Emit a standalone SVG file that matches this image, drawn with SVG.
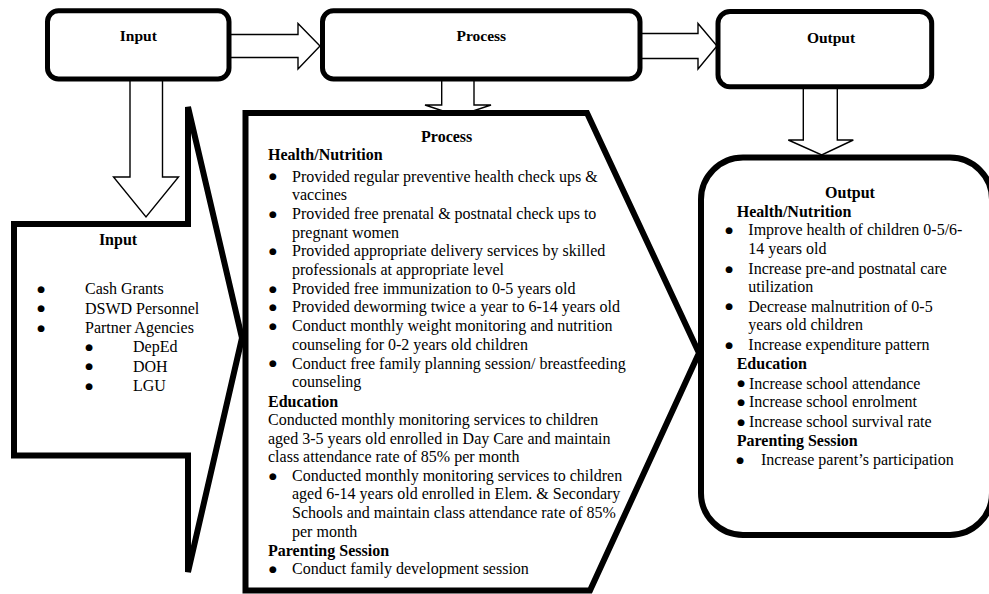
<svg xmlns="http://www.w3.org/2000/svg" width="989" height="594" viewBox="0 0 989 594">
<style>
  text { font-family: "Liberation Serif", "Times New Roman", serif; font-size: 16px; fill: #000; }
  .b { font-weight: bold; }
  .top { font-weight: bold; font-size: 15.5px; text-anchor: middle; }
  .mid { text-anchor: middle; }
  .bl { font-family: "DejaVu Sans", sans-serif; font-size: 9px; }
  .box { fill: #fff; stroke: #000; stroke-width: 5; }
  .callout { fill: #fff; stroke: #000; stroke-width: 6; }
  .blk { fill: #fff; stroke: #000; stroke-width: 1.4; }
</style>
<rect width="989" height="594" fill="#fff"/>

<g id="connectors">
  <polygon class="blk" points="229,34.5 298,34.5 298,23.5 320,46 298,69 298,57.5 229,57.5"/>
  <polygon class="blk" points="640,33.5 698,33.5 698,23.5 717,46 698,69 698,58.5 640,58.5"/>
  <polygon class="blk" points="130,79 130,177 113.5,177 146,217 178.5,177 162.5,177 162.5,79"/>
  <polygon class="blk" points="441.7,79 441.7,105 425,105 458,116 491,105 474,105 474,79"/>
  <polygon class="blk" points="803.3,87 803.3,140 788.3,140 821.7,155 853.3,140 837.3,140 837.3,87"/>
</g>

<g id="node-input-top">
  <rect class="box" x="47.5" y="10.8" width="181.5" height="68.2" rx="11"/>
  <text class="top" x="138.3" y="41">Input</text>
</g>
<g id="node-process-top">
  <rect class="box" x="322.5" y="10.8" width="317.5" height="68.2" rx="11"/>
  <text class="top" x="481.3" y="41">Process</text>
</g>
<g id="node-output-top">
  <rect class="box" x="718" y="11.5" width="213.7" height="75.2" rx="12" stroke-width="6"/>
  <text class="top" x="831" y="42.5">Output</text>
</g>

<g id="node-input-detail">
  <path class="callout" d="M 14 224 L 188 224 L 188 107 L 242 338 L 188 572 L 188 455.5 L 14 455.5 Z"/>
  <text class="b mid" x="118" y="245">Input</text>
  <text class="bl" x="37.3" y="292.1">●</text><text x="85" y="294.3">Cash Grants</text>
  <text class="bl" x="37.3" y="311.4">●</text><text x="85" y="313.6">DSWD Personnel</text>
  <text class="bl" x="37.3" y="330.8">●</text><text x="85" y="333">Partner Agencies</text>
  <text class="bl" x="85.3" y="350.1">●</text><text x="133" y="352.3">DepEd</text>
  <text class="bl" x="85.3" y="369.4">●</text><text x="133" y="371.6">DOH</text>
  <text class="bl" x="85.3" y="388.8">●</text><text x="133" y="391">LGU</text>
</g>

<g id="node-process-detail">
  <path class="callout" d="M 245.5 113 L 587 113 L 699 353 L 590 590.5 L 245.5 590.5 Z"/>
  <text class="b mid" x="446.7" y="142">Process</text>
  <text class="b" x="268" y="160">Health/Nutrition</text>
  <text class="bl" x="269" y="179.3">●</text><text x="292" y="181.5">Provided regular preventive health check ups &amp;</text>
  <text x="292" y="200.2">vaccines</text>
  <text class="bl" x="269" y="216.7">●</text><text x="292" y="218.9">Provided free prenatal &amp; postnatal check ups to</text>
  <text x="292" y="237.6">pregnant women</text>
  <text class="bl" x="269" y="254.1">●</text><text x="292" y="256.3">Provided appropriate delivery services by skilled</text>
  <text x="292" y="275">professionals at appropriate level</text>
  <text class="bl" x="269" y="291.5">●</text><text x="292" y="293.7">Provided free immunization to 0-5 years old</text>
  <text class="bl" x="269" y="310.2">●</text><text x="292" y="312.4">Provided deworming twice a year to 6-14 years old</text>
  <text class="bl" x="269" y="328.9">●</text><text x="292" y="331.1">Conduct monthly weight monitoring and nutrition</text>
  <text x="292" y="349.8">counseling for 0-2 years old children</text>
  <text class="bl" x="269" y="366.3">●</text><text x="292" y="368.5">Conduct free family planning session/ breastfeeding</text>
  <text x="292" y="387.2">counseling</text>
  <text class="b" x="268" y="406.5">Education</text>
  <text x="268" y="425">Conducted monthly monitoring services to children</text>
  <text x="268" y="443.5">aged 3-5 years old enrolled in Day Care and maintain</text>
  <text x="268" y="462">class attendance rate of 85% per month</text>
  <text class="bl" x="269" y="478.5">●</text><text x="292" y="480.7">Conducted monthly monitoring services to children</text>
  <text x="292" y="499.4">aged 6-14 years old enrolled in Elem. &amp; Secondary</text>
  <text x="292" y="518.1">Schools and maintain class attendance rate of 85%</text>
  <text x="292" y="536.8">per month</text>
  <text class="b" x="268" y="555.5">Parenting Session</text>
  <text class="bl" x="269" y="572">●</text><text x="292" y="574.2">Conduct family development session</text>
</g>

<g id="node-output-detail">
  <rect class="callout" x="701" y="157.5" width="291" height="377.5" rx="42" stroke-width="7"/>
  <text class="b mid" x="850" y="198">Output</text>
  <text class="b" x="736.7" y="217">Health/Nutrition</text>
  <text class="bl" x="725.3" y="232.8">●</text><text x="748.3" y="235">Improve health of children 0-5/6-</text>
  <text x="748.3" y="254">14 years old</text>
  <text class="bl" x="725.3" y="271.8">●</text><text x="748.3" y="274">Increase pre-and postnatal care</text>
  <text x="748.3" y="292">utilization</text>
  <text class="bl" x="725.3" y="309.3">●</text><text x="748.3" y="311.5">Decrease malnutrition of 0-5</text>
  <text x="748.3" y="330">years old children</text>
  <text class="bl" x="725.3" y="347.8">●</text><text x="748.3" y="350">Increase expenditure pattern</text>
  <text class="b" x="736.7" y="368.5">Education</text>
  <text class="bl" x="737.3" y="386.3">●</text><text x="749" y="388.5">Increase school attendance</text>
  <text class="bl" x="737.3" y="404.8">●</text><text x="749" y="407">Increase school enrolment</text>
  <text class="bl" x="737.3" y="424.8">●</text><text x="749" y="427">Increase school survival rate</text>
  <text class="b" x="736.7" y="446">Parenting Session</text>
  <text class="bl" x="736.3" y="462.8">●</text><text x="761" y="465">Increase parent’s participation</text>
</g>
</svg>
